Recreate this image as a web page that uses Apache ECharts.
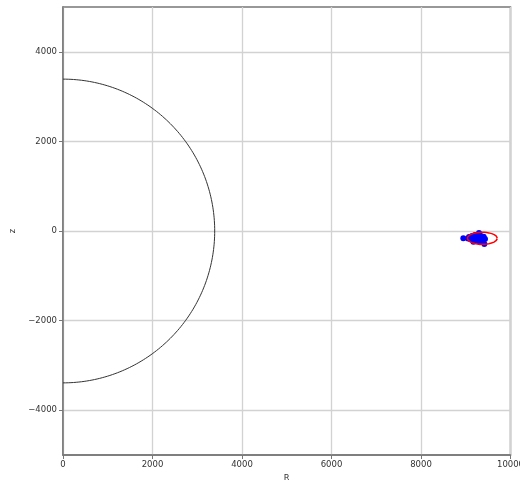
<!DOCTYPE html>
<html>
<head>
<meta charset="utf-8">
<script src="https://cdn.jsdelivr.net/npm/echarts@6/dist/echarts.min.js"></script>
<style>
  html, body { margin: 0; padding: 0; background: #fff; }
  #chart { width: 520px; height: 480px; }
</style>
</head>
<body>
<div id="chart"></div>
<script>
// Axis ranges and tick values
const xTicks = [0, 2000, 4000, 6000, 8000, 10000];
const zTicks = [-4000, -2000, 0, 2000, 4000];
const xRange = [0, 10000];
const zRange = [-5000, 5000];

// Planet outline (half disc seen in the R-z plane)
const planetRadius = 3390;

// Fitted orbit ellipse: centre R, centre z, semi-axis along R, semi-axis along z
const orbitCenter = [9370, -163];
const orbitSemiAxes = [335, 134];

// Observed spacecraft positions (R, z)
const obsR = [8946, 9073, 9140, 9207, 9296, 9340, 9385, 9430, 9415, 9280, 9165, 9100, 9235, 9320, 9190, 9260, 9360, 9120, 9300, 9230, 9050, 9400, 9340, 9250, 9170];
const obsZ = [-163, -134, -112, -89, -45, -110, -150, -180, -291, -225, -200, -180, -160, -250, -150, -120, -200, -160, -80, -210, -170, -130, -220, -90, -240];

// Outline points for the half circle and the ellipse
function arc(cx, cy, rx, ry, t0, t1, n) {
  const pts = [];
  for (let i = 0; i <= n; i++) {
    const t = t0 + (t1 - t0) * i / n;
    pts.push([cx + rx * Math.cos(t), cy + ry * Math.sin(t)]);
  }
  return pts;
}
const planetOutline = arc(0, 0, planetRadius, planetRadius, -Math.PI / 2, Math.PI / 2, 180);
const orbitOutline = arc(orbitCenter[0], orbitCenter[1], orbitSemiAxes[0], orbitSemiAxes[1], 0, 2 * Math.PI, 240);
const observations = obsR.map((r, i) => [r, obsZ[i]]);

const font = 'DejaVu Sans';
const axisColor = '#777';
const gridColor = '#d2d2d2';
const textColor = '#333';
const fmt = v => (v < 0 ? '\u2212' + Math.abs(v) : String(v));

const chart = echarts.init(document.getElementById('chart'), null, { renderer: 'canvas' });
chart.setOption({
  animation: false,
  backgroundColor: '#fff',
  grid: {
    left: 63, right: 9.5, top: 7, bottom: 25,
    outerBoundsMode: 'none', containLabel: false,
    show: true, borderColor: axisColor, borderWidth: 1.5, backgroundColor: 'transparent'
  },
  xAxis: {
    type: 'value',
    min: xRange[0], max: xRange[1], interval: 2000,
    name: 'R', nameLocation: 'middle', nameGap: 16,
    nameTextStyle: { fontFamily: font, fontSize: 8.5, color: textColor },
    axisLine: { show: true, onZero: false, lineStyle: { color: axisColor, width: 1.5 } },
    axisTick: { show: true, inside: false, length: 4, lineStyle: { color: axisColor } },
    axisLabel: { fontFamily: font, fontSize: 8.5, color: textColor, margin: 5, showMaxLabel: true, showMinLabel: true, hideOverlap: false, formatter: fmt },
    splitLine: { show: true, lineStyle: { color: gridColor, width: 1.3 } }
  },
  yAxis: {
    type: 'value',
    min: zRange[0], max: zRange[1],
    name: 'z', nameLocation: 'middle', nameGap: 41,
    nameTextStyle: { fontFamily: font, fontSize: 8.5, color: textColor },
    axisLine: { show: true, onZero: false, lineStyle: { color: axisColor, width: 1.5 } },
    axisTick: { show: true, inside: false, length: 4, customValues: zTicks, lineStyle: { color: axisColor } },
    axisLabel: { fontFamily: font, fontSize: 8.5, color: textColor, margin: 6, customValues: zTicks, formatter: fmt },
    splitLine: { show: true, lineStyle: { color: gridColor, width: 1.3 } }
  },
  series: [
    {
      type: 'line', data: planetOutline, showSymbol: false, smooth: false,
      lineStyle: { color: '#333', width: 1 }, silent: true, z: 3
    },
    {
      type: 'scatter', data: observations, symbol: 'circle', symbolSize: 6,
      itemStyle: { color: '#0000ff', opacity: 1 }, z: 4
    },
    {
      type: 'line', data: orbitOutline, showSymbol: false, smooth: false,
      lineStyle: { color: '#ff0000', width: 1.5 }, silent: true, z: 5
    }
  ]
});
</script>
</body>
</html>
